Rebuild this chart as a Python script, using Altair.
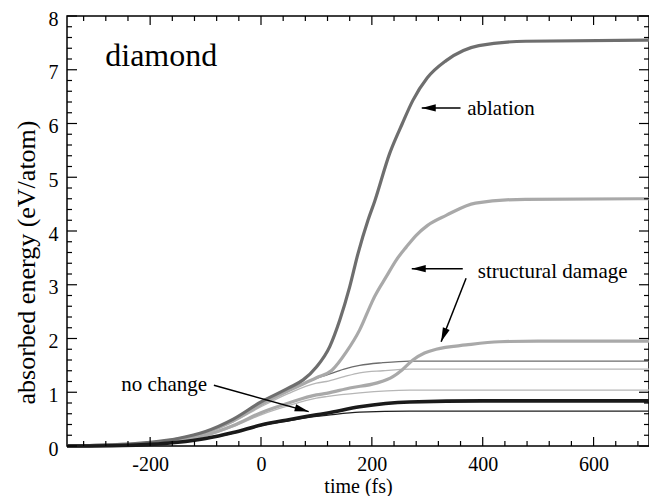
import math
import altair as alt
import pandas as pd

# ---------------- data ----------------
# ablation curve (thick dark gray)
abl_t = [-350, -300, -250, -200, -150, -100, -50, 0, 50, 76, 100, 124, 142, 160, 175, 193, 205, 232, 255, 274, 300, 334, 393, 477, 700]
abl_e = [0.0, 0.01, 0.03, 0.07, 0.14, 0.27, 0.5, 0.82, 1.08, 1.23, 1.47, 1.85, 2.34, 2.96, 3.58, 4.2, 4.55, 5.44, 6.0, 6.43, 6.85, 7.17, 7.45, 7.53, 7.55]

# structural damage, high (thick light gray)
sd1_t = [-350, -300, -250, -200, -150, -100, -50, 0, 50, 100, 128, 154, 178, 199, 205, 226, 244, 262, 280, 300, 334, 387, 477, 700]
sd1_e = [0.0, 0.01, 0.03, 0.06, 0.13, 0.25, 0.47, 0.77, 1.03, 1.27, 1.41, 1.75, 2.16, 2.65, 2.78, 3.15, 3.46, 3.7, 3.92, 4.1, 4.29, 4.52, 4.59, 4.6]

# structural damage, low (thick light gray)
sd2_t = [-350, -250, -200, -150, -100, -50, 0, 50, 100, 118, 160, 208, 238, 255, 274, 295, 316, 370, 430, 500, 700]
sd2_e = [0.0, 0.02, 0.05, 0.1, 0.2, 0.38, 0.62, 0.8, 0.95, 0.98, 1.08, 1.17, 1.29, 1.42, 1.6, 1.73, 1.8, 1.88, 1.94, 1.95, 1.95]

# thin dark gray
td_t = [-350, -250, -200, -150, -100, -50, 0, 50, 100, 118, 150, 178, 220, 268, 700]
td_e = [0.0, 0.03, 0.07, 0.14, 0.26, 0.48, 0.78, 1.03, 1.26, 1.32, 1.43, 1.5, 1.55, 1.58, 1.58]

# thin light gray (upper)
tl1_t = [-350, -250, -200, -150, -100, -50, 0, 50, 100, 118, 150, 178, 220, 268, 700]
tl1_e = [0.0, 0.03, 0.06, 0.13, 0.25, 0.45, 0.73, 0.98, 1.17, 1.2, 1.29, 1.36, 1.4, 1.43, 1.43]

# thin light gray (lower)
tl2_t = [-350, -250, -200, -150, -100, -50, 0, 50, 100, 118, 178, 268, 700]
tl2_e = [0.0, 0.02, 0.05, 0.1, 0.19, 0.36, 0.58, 0.75, 0.89, 0.92, 0.99, 1.04, 1.04]

# no change, thick black
nc1_t = [-350, -250, -200, -150, -100, -50, 0, 50, 100, 118, 178, 268, 400, 700]
nc1_e = [0.0, 0.01, 0.03, 0.07, 0.14, 0.25, 0.39, 0.49, 0.58, 0.61, 0.73, 0.82, 0.84, 0.84]

# no change, thin black
nc2_t = [-350, -250, -200, -150, -100, -50, 0, 50, 100, 118, 178, 268, 700]
nc2_e = [0.0, 0.01, 0.03, 0.07, 0.14, 0.24, 0.38, 0.47, 0.55, 0.57, 0.63, 0.65, 0.65]

# annotation texts
label_text = ["diamond", "ablation", "structural damage", "no change"]
label_x = [-281, 372, 391, -252]
label_y = [7.07, 6.15, 3.12, 1.02]
label_size = [32, 21, 21, 21]

# arrows (start -> tip)
arrow_x0 = [360, 364, 370, -85]
arrow_y0 = [6.29, 3.30, 3.12, 1.13]
arrow_x1 = [290, 272, 325, 86]
arrow_y1 = [6.29, 3.30, 1.94, 0.64]

# axis ticks
x_major = [-200, 0, 200, 400, 600]
x_minor = [v for v in range(-320, 700, 40) if v not in x_major]
y_major = [0, 1, 2, 3, 4, 5, 6, 7, 8]
y_minor = [round(v * 0.2, 1) for v in range(1, 40) if v % 5 != 0]

# ---------------- chart ----------------
X_MIN, X_MAX = -350, 700
Y_MIN, Y_MAX = 0, 8
W, H = 582, 430
FONT = "Liberation Serif"

xscale = alt.Scale(domain=[X_MIN, X_MAX], nice=False, zero=False)
yscale = alt.Scale(domain=[Y_MIN, Y_MAX], nice=False, zero=False)
xaxis = alt.Axis(values=x_major, ticks=False, domain=False, grid=False,
                 labelPadding=8, title="time (fs)", titleY=46,
                 labelExpr="datum.value < 0 ? '-' + abs(datum.value) : datum.label",
                 labelFont=FONT, titleFont=FONT,
                 titleBaseline="alphabetic", titleFontSize=20)
yaxis = alt.Axis(values=y_major, ticks=False, domain=False, grid=False,
                 labelPadding=9, labelOffset=3, title="absorbed energy (eV/atom)",
                 labelFont=FONT, titleFont=FONT,
                 titleX=-41, titleY=246, titleAngle=270, titleAlign="center",
                 titleBaseline="middle", titleFontSize=26)


def X(field):
    return alt.X(field, type="quantitative", scale=xscale, axis=xaxis)


def Y(field):
    return alt.Y(field, type="quantitative", scale=yscale, axis=yaxis)


curves = [
    (tl2_t, tl2_e, "#b6b6b6", 1.3),
    (tl1_t, tl1_e, "#b6b6b6", 1.3),
    (td_t, td_e, "#6c6c6c", 1.3),
    (nc2_t, nc2_e, "#1e1e1e", 1.3),
    (sd2_t, sd2_e, "#a9a9a9", 3.2),
    (sd1_t, sd1_e, "#a9a9a9", 3.2),
    (abl_t, abl_e, "#6e6e6e", 3.2),
    (nc1_t, nc1_e, "#1a1a1a", 3.6),
]

layers = []
for ts, es, col, sw in curves:
    df = pd.DataFrame({"t": ts, "e": es})
    layers.append(
        alt.Chart(df).mark_line(color=col, strokeWidth=sw, interpolate="monotone")
        .encode(x=X("t"), y=Y("e"))
    )


# inward ticks on all four sides
def tick_layers(vals, length, orient):
    df = pd.DataFrame({"v": vals})
    base = alt.Chart(df).mark_rule(color="black", strokeWidth=1.2)
    if orient == "bottom":
        return base.encode(x=X("v"), y=alt.value(H), y2=alt.value(H - length))
    if orient == "top":
        return base.encode(x=X("v"), y=alt.value(0), y2=alt.value(length))
    if orient == "left":
        return base.encode(y=Y("v"), x=alt.value(0), x2=alt.value(length))
    return base.encode(y=Y("v"), x=alt.value(W), x2=alt.value(W - length))


for o in ["bottom", "top"]:
    layers.append(tick_layers(x_major, 9, o))
    layers.append(tick_layers(x_minor, 5, o))
for o in ["left", "right"]:
    layers.append(tick_layers(y_major, 10, o))
    layers.append(tick_layers(y_minor, 5, o))

# arrows
px_per_x = W / (X_MAX - X_MIN)
px_per_y = H / (Y_MAX - Y_MIN)
angles = []
for x0, y0, x1, y1 in zip(arrow_x0, arrow_y0, arrow_x1, arrow_y1):
    dx = (x1 - x0) * px_per_x
    dy = -(y1 - y0) * px_per_y
    angles.append(math.degrees(math.atan2(dx, -dy)) % 360)

arrow_df = pd.DataFrame({"x0": arrow_x0, "y0": arrow_y0, "x1": arrow_x1,
                         "y1": arrow_y1, "ang": angles})
layers.append(
    alt.Chart(arrow_df).mark_rule(color="black", strokeWidth=1.5)
    .encode(x=X("x0"), y=Y("y0"), x2="x1", y2="y1")
)
layers.append(
    alt.Chart(arrow_df).mark_point(shape="M0,0L0.26,1L-0.26,1Z", filled=True,
                                   color="black", opacity=1, size=784, strokeWidth=0)
    .encode(x=X("x1"), y=Y("y1"), angle=alt.Angle("ang:Q", scale=None))
)

# text labels
for txt, lx, ly, fs in zip(label_text, label_x, label_y, label_size):
    tdf = pd.DataFrame({"x": [lx], "y": [ly], "label": [txt]})
    layers.append(
        alt.Chart(tdf).mark_text(align="left", baseline="alphabetic", font=FONT,
                                 fontSize=fs, color="black")
        .encode(x=X("x"), y=Y("y"), text="label:N")
    )

chart = (
    alt.layer(*layers)
    .properties(width=W, height=H, autosize=alt.AutoSizeParams(type="none"),
                padding={"left": 59, "top": 8, "right": 0, "bottom": 50})
    .configure_view(stroke="black", strokeWidth=1.5)
    .configure_axis(labelFont=FONT, labelFontSize=20, labelColor="black",
                    titleFont=FONT, titleColor="black", titleFontWeight="normal")
)

chart.save("out.html", embed_options={"renderer": "svg", "actions": False})
